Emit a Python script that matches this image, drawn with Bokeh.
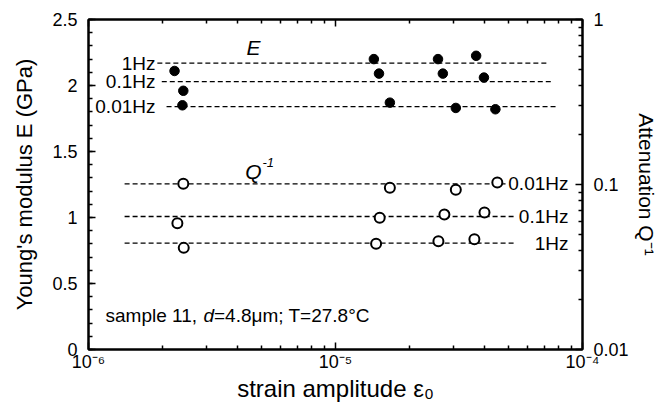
import math
from bokeh.plotting import figure
from bokeh.models import (LogAxis, Range1d, LogScale, FixedTicker, Label,
                          CustomJSTickFormatter)
from bokeh.embed import file_html
from bokeh.resources import INLINE

# ---------------- data ----------------
# Young's modulus E (GPa), filled symbols
E_x_1Hz = [2.23e-6, 1.43e-5, 2.60e-5, 3.71e-5]
E_1Hz = [2.11, 2.20, 2.20, 2.225]
E_x_01Hz = [2.42e-6, 1.50e-5, 2.72e-5, 3.99e-5]
E_01Hz = [1.96, 2.09, 2.09, 2.06]
E_x_001Hz = [2.40e-6, 1.66e-5, 3.07e-5, 4.44e-5]
E_001Hz = [1.85, 1.87, 1.83, 1.82]

# Attenuation Q^-1, open symbols
Q_x_001Hz = [2.42e-6, 1.66e-5, 3.07e-5, 4.52e-5]
Q_001Hz = [0.101, 0.0955, 0.0929, 0.1028]
Q_x_01Hz = [2.29e-6, 1.51e-5, 2.76e-5, 4.01e-5]
Q_01Hz = [0.0583, 0.0628, 0.0658, 0.0676]
Q_x_1Hz = [2.43e-6, 1.46e-5, 2.61e-5, 3.65e-5]
Q_1Hz = [0.0413, 0.0437, 0.0453, 0.0466]

# dashed guide lines
E_guide_labels = ["1Hz", "0.1Hz", "0.01Hz"]
E_guide_levels = [2.17, 2.03, 1.84]
E_guide_start = [1.90e-6, 1.98e-6, 2.07e-6]
E_guide_end = [7.2e-5, 7.56e-5, 7.85e-5]

Q_guide_labels = ["0.01Hz", "0.1Hz", "1Hz"]
Q_guide_levels = [0.101, 0.064, 0.0441]
Q_guide_start = [1.40e-6, 1.40e-6, 1.40e-6]
Q_guide_end = [4.88e-5, 5.35e-5, 5.35e-5]

# ticks
x_ticks = [1e-6, 1e-5, 1e-4]
x_tick_labels = ["10\u207b\u2076", "10\u207b\u2075", "10\u207b\u2074"]
x_minor = [m * 10.0 ** d for d in (-6, -5) for m in range(2, 10)]
E_ticks = [0, 0.5, 1, 1.5, 2, 2.5]
E_minor = [i / 10 for i in range(0, 26)]
Q_ticks = [0.01, 0.1, 1]
Q_minor = [m * 10.0 ** d for d in (-2, -1) for m in range(2, 10)]

FONT = "Liberation Sans"

# ---------------- layout (frame: left 88, top 19, 494 x 330 px) ----------
W, H = 661, 404
FL, FT, FW, FH = 88, 19, 494, 330
def fx(px):
    return 10 ** (-6 + 2.0 * (px - FL) / FW)
def fy(py):
    return 2.5 * (FT + FH - py) / FH

p = figure(width=W, height=H, x_axis_type="log",
           x_range=Range1d(1e-6, 1e-4), y_range=Range1d(0, 2.5),
           output_backend="svg", toolbar_location=None,
           min_border_left=FL, min_border_right=W - FL - FW,
           min_border_top=FT, min_border_bottom=H - FT - FH)
p.extra_y_ranges = {"q": Range1d(0.01, 1)}
p.extra_y_scales = {"q": LogScale()}
p.grid.visible = False
p.outline_line_color = "black"
p.outline_line_width = 2
p.background_fill_color = "white"
p.border_fill_color = "white"

tick_fmt = CustomJSTickFormatter(code="return tick.toString();")
blank_fmt = CustomJSTickFormatter(code="return '';")
x_fmt = CustomJSTickFormatter(args=dict(tk=x_ticks, lbl=x_tick_labels), code="""
for (let i = 0; i < tk.length; i++) {
  if (Math.abs(Math.log10(tk[i] / tick)) < 1e-6) { return lbl[i]; }
}
return '';
""")

def style_axis(ax, labels=True):
    ax.axis_line_color = "black"
    ax.axis_line_width = 2
    ax.major_tick_in = 7
    ax.major_tick_out = 0
    ax.minor_tick_in = 4
    ax.minor_tick_out = 0
    ax.major_tick_line_color = "black"
    ax.minor_tick_line_color = "black"
    ax.major_tick_line_width = 1.5
    ax.minor_tick_line_width = 1.5
    ax.major_label_text_font = FONT
    ax.major_label_text_font_size = "18px" if labels else "2px"
    ax.major_label_text_color = "black"
    ax.major_label_standoff = 10 if labels else 0
    ax.axis_label_text_font = FONT
    ax.axis_label_text_font_style = "normal"
    ax.axis_label_text_color = "black"
    if not labels:
        ax.formatter = blank_fmt

# bottom
bx = p.xaxis[0]
bx.ticker = FixedTicker(ticks=x_ticks, minor_ticks=x_minor)
style_axis(bx)
bx.formatter = x_fmt
bx.major_label_text_font_size = "18px"
bx.major_label_standoff = 2
bx.axis_label = "strain amplitude \u03b5\u2080"
bx.axis_label_text_font_size = "24px"
bx.axis_label_standoff = 0

# top
tx = LogAxis(ticker=FixedTicker(ticks=x_ticks, minor_ticks=x_minor))
style_axis(tx, labels=False)
p.add_layout(tx, "above")

# left
ly = p.yaxis[0]
ly.ticker = FixedTicker(ticks=E_ticks, minor_ticks=E_minor)
ly.formatter = tick_fmt
style_axis(ly)
ly.major_label_standoff = 11
ly.axis_label = "Young's modulus E (GPa)"
ly.axis_label_text_font_size = "22px"
ly.axis_label_standoff = 12

# right
ry = LogAxis(y_range_name="q", ticker=FixedTicker(ticks=Q_ticks, minor_ticks=Q_minor),
             formatter=tick_fmt)
style_axis(ry)
ry.major_label_standoff = 11
ry.axis_label = "Attenuation Q\u207b\u00b9"
ry.axis_label_text_font_size = "21px"
ry.axis_label_standoff = 3
p.add_layout(ry, "right")

# ---------------- guides ----------------
p.segment(x0=E_guide_start, y0=E_guide_levels, x1=E_guide_end, y1=E_guide_levels,
          line_color="black", line_width=1.3, line_dash="5 3")
p.segment(x0=Q_guide_start, y0=Q_guide_levels, x1=Q_guide_end, y1=Q_guide_levels,
          line_color="black", line_width=1.3, line_dash="5 3", y_range_name="q")

# ---------------- points ----------------
for xs, ys in ((E_x_1Hz, E_1Hz), (E_x_01Hz, E_01Hz), (E_x_001Hz, E_001Hz)):
    p.scatter(xs, ys, size=9.5, fill_color="black", line_color="black")
for xs, ys in ((Q_x_001Hz, Q_001Hz), (Q_x_01Hz, Q_01Hz), (Q_x_1Hz, Q_1Hz)):
    p.scatter(xs, ys, size=10, fill_color="white", line_color="black",
              line_width=2, y_range_name="q")

# ---------------- text ----------------
def lab(x, y, t, size, align="left", base="middle", style="normal", angle=0.0,
        y_range_name="default"):
    p.add_layout(Label(x=x, y=y, text=t, text_font=FONT,
                       text_font_size=size, text_align=align, text_baseline=base,
                       text_font_style=style, text_color="black", angle=angle,
                       y_range_name=y_range_name))

for t, lv in zip(E_guide_labels, E_guide_levels):
    lab(fx(155), lv, t, "19px", align="right")
for t, lv in zip(Q_guide_labels, Q_guide_levels):
    lab(fx(568), lv, t, "19px", align="right", y_range_name="q")

lab(fx(253), fy(47), "E", "21px", align="center", style="italic")
lab(fx(253), fy(171), "Q", "21px", align="center", style="italic")
lab(fx(262), fy(162), "-1", "13px", align="left", style="italic")

s0 = 105
lab(fx(s0), fy(315), "sample 11, ", "19px")
lab(fx(s0 + 98), fy(315), "d", "19px", style="italic")
lab(fx(s0 + 108.5), fy(315), "=4.8\u03bcm; T=27.8\u00b0C", "19px")

open("out.html", "w").write(file_html(p, INLINE))
